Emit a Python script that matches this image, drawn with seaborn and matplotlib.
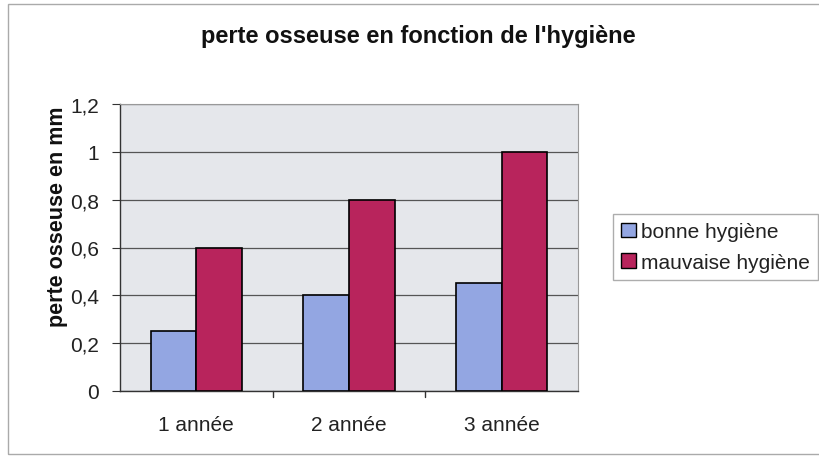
import pandas as pd
import matplotlib.pyplot as plt
import matplotlib.patches as mpatches
import seaborn as sns

# values
annees = ['1 année', '2 année', '3 année']
bonne = [0.25, 0.40, 0.45]
mauvaise = [0.60, 0.80, 1.00]
series = ['bonne hygiène', 'mauvaise hygiène']
yticks = [0, 0.2, 0.4, 0.6, 0.8, 1.0, 1.2]
ytick_labels = ['0', '0,2', '0,4', '0,6', '0,8', '1', '1,2']

df = pd.DataFrame({
    'annee': annees * 2,
    'perte': bonne + mauvaise,
    'hygiene': [series[0]] * 3 + [series[1]] * 3,
})

sns.set_style('white')
plt.rcParams['font.family'] = ['Liberation Sans', 'DejaVu Sans']

fig = plt.figure(figsize=(8.19, 4.6), dpi=100)
ax = fig.add_axes([120 / 819, 1 - 392 / 460, 458 / 819, 287 / 460])

palette = {series[0]: '#93a6e2', series[1]: '#b8245c'}
sns.barplot(data=df, x='annee', y='perte', hue='hygiene', palette=palette,
            width=0.6, edgecolor='black', linewidth=1.2, saturation=1,
            ax=ax, legend=False, zorder=3)

ax.set_facecolor('#e5e7eb')
ax.set_ylim(0, 1.2)
ax.set_xlim(-0.5, 2.5)
ax.set_yticks(yticks)
ax.set_yticklabels(ytick_labels, fontsize=15, color='#222222')
ax.tick_params(axis='x', labelsize=15, labelcolor='#222222', length=0, pad=17)
ax.tick_params(axis='y', length=6, color='#333333', direction='out',
               left=True, pad=9)
ax.yaxis.grid(True, color='#555555', linewidth=0.9, zorder=0)
ax.set_axisbelow(True)
ax.set_xlabel('')
ax.set_ylabel('')
for side in ['top', 'right']:
    ax.spines[side].set_color('#999999')
for side in ['left', 'bottom']:
    ax.spines[side].set_color('#333333')
    ax.spines[side].set_linewidth(1.0)

# small ticks between the categories
for xb in [0.5, 1.5]:
    ax.plot([xb, xb], [0, -0.025], color='#333333', lw=1, clip_on=False)

fig.text(418 / 819, 1 - 37 / 460, "perte osseuse en fonction de l'hygiène",
         fontsize=17, fontweight='bold', ha='center', va='center',
         color='#111111')
fig.text(57 / 819, 1 - 217 / 460, 'perte osseuse en mm', rotation=90,
         fontsize=15.5, fontweight='bold', ha='center', va='center',
         color='#111111')

handles = [mpatches.Patch(facecolor=palette[s], edgecolor='black', label=s)
           for s in series]
leg = fig.legend(handles=handles, loc='upper left',
                 bbox_to_anchor=(613 / 819, 1 - 215 / 460), fontsize=15,
                 frameon=True, fancybox=False, handlelength=0.7,
                 handleheight=0.7, handletextpad=0.25, borderpad=0.4,
                 labelspacing=0.55, borderaxespad=0)
leg.get_frame().set_edgecolor('#999999')
leg.get_frame().set_linewidth(1)
for t in leg.get_texts():
    t.set_color('#222222')

# outer chart border
fig.patches.append(mpatches.Rectangle((8 / 819, 0.01), 1, 1 - 5 / 460 - 0.01,
                                      transform=fig.transFigure, fill=False,
                                      edgecolor='#aaaaaa', lw=1))

fig.savefig('out.png', dpi=100)
